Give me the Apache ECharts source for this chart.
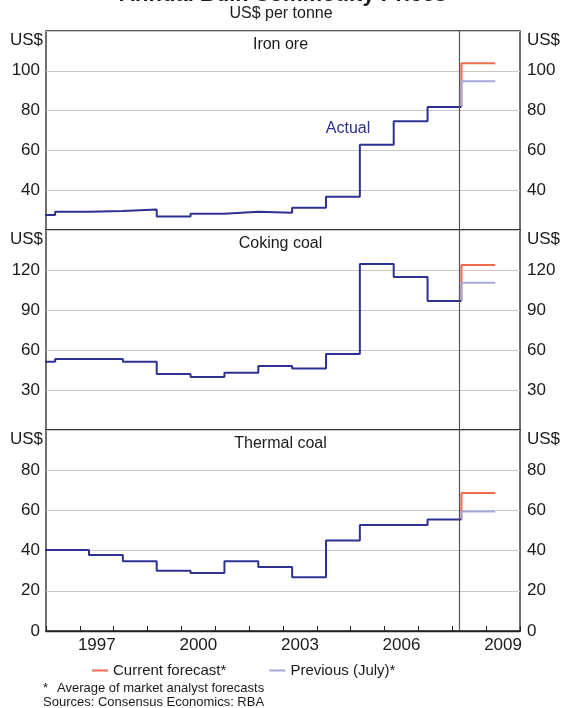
<!DOCTYPE html>
<html><head><meta charset="utf-8">
<script src="https://cdn.jsdelivr.net/npm/echarts@6/dist/echarts.min.js"></script>
<style>html,body{margin:0;padding:0;background:#fff}#c{width:561px;height:708px}</style>
</head><body><div id="c"></div>
<script>
// contract years (Japanese fiscal year, starting around April)
const contractYears = [1995,1996,1997,1998,1999,2000,2001,2002,2003,2004,2005,2006,2007];
const forecastYear = 2008;
const ironOreActual  = [27.5,29.2,29.5,30.3,26.8,28.2,29.2,28.7,31.2,36.7,62.8,74.7,81.8];
const cokingActual   = [51.2,53.3,53.3,51.2,42.0,39.8,43.0,48.0,46.2,57.0,124.5,114.8,96.8];
const thermalActual  = [40.3,40.3,37.8,34.7,30.0,28.8,34.7,31.8,26.8,45.0,52.7,52.7,55.5];
const currentForecast  = {iron: 103.8, coking: 123.8, thermal: 68.7};
const previousForecast = {iron: 94.7,  coking: 110.5, thermal: 59.5};
const axisYears = [1996,1997,1998,1999,2000,2001,2002,2003,2004,2005,2006,2007,2008,2009];
const labelYears = ['1997','2000','2003','2006','2009'];
const dividerDate = 2008.2;

const OFF = 0.27; // fiscal-year start within calendar year
const FONT = 'Liberation Sans, Arial, sans-serif';
const NAVY = '#2e3192', RED = '#ef6a4f', LAV = '#a3a8d9', TXT = '#1a1a1a';

const panels = [
  {name:'Iron ore', actual: ironOreActual, cur: currentForecast.iron, prev: previousForecast.iron, min:20, max:120, step:20, top:31, h:199, showMin:false},
  {name:'Coking coal', actual: cokingActual, cur: currentForecast.coking, prev: previousForecast.coking, min:0, max:150, step:30, top:230, h:200, showMin:false},
  {name:'Thermal coal', actual: thermalActual, cur: currentForecast.thermal, prev: previousForecast.thermal, min:0, max:100, step:20, top:430, h:201, showMin:true}
];

const grid = [], xAxis = [], yAxis = [], series = [], graphic = [];
panels.forEach((p, i) => {
  grid.push({left:46, width:474, top:p.top, height:p.h, show:true, borderColor:'#222', borderWidth:1.3, backgroundColor:'transparent'});
  const last = i === panels.length - 1;
  xAxis.push({type:'value', gridIndex:i, min:1996, max:2010, interval:1, position:'bottom',
    axisLine:{show:last, lineStyle:{color:'#222', width:1.3}},
    axisTick:{show:last, inside:true, length:5, lineStyle:{color:'#222', width:1}},
    axisLabel:{show:false}, splitLine:{show:false}});
  const fmt = v => (v === p.max || (v === p.min && !p.showMin)) ? '' : String(v);
  yAxis.push({type:'value', gridIndex:i, min:p.min, max:p.max, interval:p.step, position:'left',
    axisLine:{show:false}, axisTick:{show:false},
    axisLabel:{formatter:fmt, fontSize:17, color:TXT, fontFamily:FONT, margin:6},
    splitLine:{show:true, lineStyle:{color:'#c8c8c8', width:1}}});
  yAxis.push({type:'value', gridIndex:i, min:p.min, max:p.max, interval:p.step, position:'right',
    axisLine:{show:false}, axisTick:{show:false},
    axisLabel:{formatter:fmt, fontSize:17, color:TXT, fontFamily:FONT, margin:7},
    splitLine:{show:false}});
  const actualData = contractYears.map((y, k) => [y + OFF, p.actual[k]]);
  const lastVal = p.actual[p.actual.length - 1];
  actualData.push([forecastYear + OFF, lastVal]);
  series.push({type:'line', name:'Actual', xAxisIndex:i, yAxisIndex:i*2, step:'end', data:actualData,
    showSymbol:false, lineStyle:{color:NAVY, width:2}, itemStyle:{color:NAVY}, z:4, silent:true,
    markLine:{silent:true, symbol:['none','none'], label:{show:false},
      lineStyle:{color:'#555', width:1.2, type:'solid'}, data:[{xAxis:dividerDate}]}});
  series.push({type:'line', name:'Current forecast*', xAxisIndex:i, yAxisIndex:i*2,
    data:[[forecastYear + OFF, lastVal],[forecastYear + OFF, p.cur],[forecastYear + 1 + OFF, p.cur]],
    showSymbol:false, lineStyle:{color:RED, width:2}, itemStyle:{color:RED}, z:3, silent:true});
  series.push({type:'line', name:'Previous (July)*', xAxisIndex:i, yAxisIndex:i*2,
    data:[[forecastYear + OFF, lastVal],[forecastYear + OFF, p.prev],[forecastYear + 1 + OFF, p.prev]],
    showSymbol:false, lineStyle:{color:LAV, width:2}, itemStyle:{color:LAV}, z:3, silent:true});
  graphic.push({type:'text', left:'center', top:p.top + 6, style:{text:p.name, font:'16px ' + FONT, fill:TXT}});
  graphic.push({type:'text', x:43, y:p.top + 9, style:{text:'US$', font:'17px ' + FONT, fill:TXT, align:'right', verticalAlign:'middle'}});
  graphic.push({type:'text', x:527, y:p.top + 9, style:{text:'US$', font:'17px ' + FONT, fill:TXT, align:'left', verticalAlign:'middle'}});
});
// category axis for centred year labels
xAxis.push({type:'category', gridIndex:2, data:axisYears.map(String), boundaryGap:true, position:'bottom',
  axisLine:{show:false}, axisTick:{show:false},
  axisLabel:{interval:(idx, val) => labelYears.includes(val), fontSize:17, color:TXT, fontFamily:FONT, margin:6}});

graphic.push({type:'text', x:283, y:-5, style:{text:'Annual Bulk Commodity Prices', font:'bold 22px ' + FONT, fill:TXT, align:'center', verticalAlign:'middle'}});
graphic.push({type:'text', x:281, y:14, style:{text:'US$ per tonne', font:'16px ' + FONT, fill:TXT, align:'center', verticalAlign:'middle'}});
graphic.push({type:'text', x:348, y:129, style:{text:'Actual', font:'16px ' + FONT, fill:NAVY, align:'center', verticalAlign:'middle'}});
graphic.push({type:'text', x:43, y:688, style:{text:'*', font:'13px ' + FONT, fill:TXT, verticalAlign:'middle'}});
graphic.push({type:'text', x:57, y:688, style:{text:'Average of market analyst forecasts', font:'13px ' + FONT, fill:TXT, verticalAlign:'middle'}});
graphic.push({type:'text', x:43, y:702, style:{text:'Sources: Consensus Economics: RBA', font:'13px ' + FONT, fill:TXT, verticalAlign:'middle'}});

const chart = echarts.init(document.getElementById('c'), null, {renderer:'canvas'});
chart.setOption({
  animation:false,
  backgroundColor:'#fff',
  textStyle:{fontFamily:FONT},
  grid, xAxis, yAxis, series, graphic,
  legend:{data:['Current forecast*','Previous (July)*'], left:87, top:658, icon:'rect', itemWidth:16, itemHeight:2,
    itemGap:43, textStyle:{fontSize:15, color:TXT, fontFamily:FONT}, selectedMode:false}
});
</script></body></html>
